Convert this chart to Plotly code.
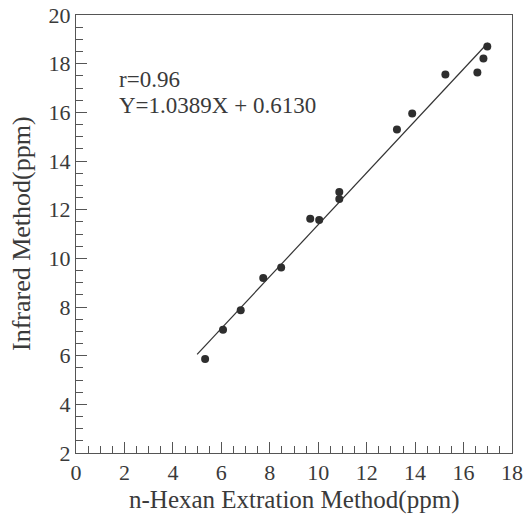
import plotly.graph_objects as go

# Data
hexan_x = [5.33, 6.07, 6.80, 7.73, 8.47, 9.67, 10.04, 10.87, 10.87, 13.25, 13.88, 15.25, 16.57, 16.82, 16.98]
infrared_y = [5.86, 7.07, 7.87, 9.19, 9.62, 11.63, 11.58, 12.44, 12.73, 15.29, 15.95, 17.55, 17.64, 18.21, 18.71]
fit_x = [5.0, 17.0]
fit_y = [6.05, 18.85]
x_ticks = [0, 2, 4, 6, 8, 10, 12, 14, 16, 18]
y_ticks = [2, 4, 6, 8, 10, 12, 14, 16, 18, 20]
annot_lines = ["r=0.96", "Y=1.0389X + 0.6130"]
x_title = "n-Hexan Extration Method(ppm)"
y_title = "Infrared Method(ppm)"

FONT = "Liberation Serif, DejaVu Serif, serif"
TXT = "#3a3a3a"
AX = "#555555"

fig = go.Figure()
fig.add_trace(go.Scatter(x=fit_x, y=fit_y, mode="lines",
                         line=dict(color="#333333", width=1.2), showlegend=False))
fig.add_trace(go.Scatter(x=hexan_x, y=infrared_y, mode="markers",
                         marker=dict(color="#2e2e2e", size=8), showlegend=False))

fig.add_annotation(x=1.7, y=17.36, text=annot_lines[0], showarrow=False,
                   xanchor="left", yanchor="middle",
                   font=dict(family=FONT, size=23, color=TXT))
fig.add_annotation(x=1.7, y=16.29, text=annot_lines[1], showarrow=False,
                   xanchor="left", yanchor="middle",
                   font=dict(family=FONT, size=23, color=TXT))

# axis titles
fig.add_annotation(xref="paper", yref="paper", x=0.5, y=0, yshift=-47,
                   text=x_title, showarrow=False, xanchor="center", yanchor="middle",
                   font=dict(family=FONT, size=25, color=TXT))
fig.add_annotation(xref="paper", yref="paper", x=0, y=0.5, xshift=-55,
                   text=y_title, showarrow=False, textangle=-90,
                   xanchor="center", yanchor="middle",
                   font=dict(family=FONT, size=26, color=TXT))

fig.update_layout(
    width=525, height=518,
    margin=dict(l=76, r=13, t=15, b=65),
    paper_bgcolor="white", plot_bgcolor="white",
    font=dict(family=FONT, color=TXT),
)
fig.update_xaxes(
    range=[0, 18], tickvals=x_ticks, ticktext=[str(v) for v in x_ticks],
    showgrid=False, zeroline=False, showline=True, mirror=True,
    linecolor=AX, linewidth=1, automargin=False, ticklabeloverflow="allow",
    ticks="inside", ticklen=11, tickcolor=AX,
    minor=dict(dtick=0.5, ticks="inside", ticklen=7, tickcolor=AX, showgrid=False),
    tickfont=dict(family=FONT, size=22, color=TXT),
)
fig.update_yaxes(
    range=[2, 20], tickvals=y_ticks, ticktext=[str(v) for v in y_ticks],
    showgrid=False, zeroline=False, showline=True, mirror=True,
    linecolor=AX, linewidth=1, automargin=False, ticklabeloverflow="allow",
    ticks="inside", ticklen=11, tickcolor=AX,
    minor=dict(dtick=0.5, ticks="inside", ticklen=7, tickcolor=AX, showgrid=False),
    tickfont=dict(family=FONT, size=22, color=TXT),
)

fig.write_html(
    "out.html",
    config={"displayModeBar": False},
    post_script="document.body.style.margin='0';document.body.style.overflow='hidden';",
)
